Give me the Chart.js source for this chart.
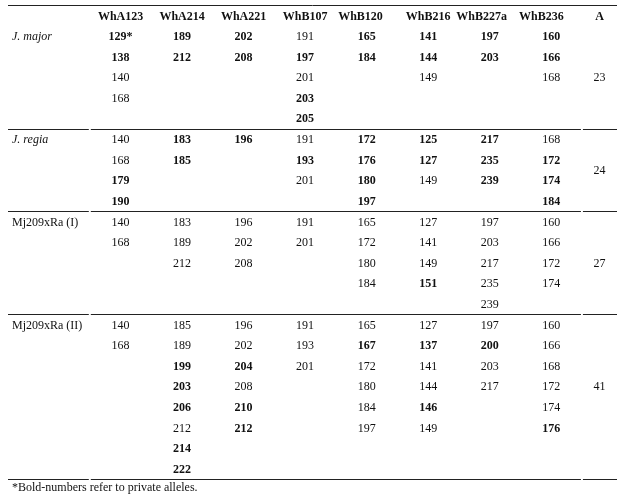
<!DOCTYPE html>
<html>
<head>
<meta charset="utf-8">
<script src="https://cdn.jsdelivr.net/npm/chart.js@4.4.0/dist/chart.umd.min.js"></script>
<style>
html, body { margin: 0; padding: 0; background: #fff; }
canvas { display: block; }
</style>
</head>
<body>
<canvas id="table1" width="628" height="498"></canvas>
<script>
// column heads and group names
var markers = ["WhA123", "WhA214", "WhA221", "WhB107", "WhB120", "WhB216", "WhB227a", "WhB236"];
var lastHead = "A";
var groups = ["J. major", "J. regia", "Mj209xRa (I)", "Mj209xRa (II)"];
var italicGroups = ["J. major", "J. regia"];
var footnote = "*Bold-numbers refer to private alleles.";

// alleles per marker, one array per group
var jMajorAlleles = [["129*", "138", "140", "168"], ["189", "212"], ["202", "208"], ["191", "197", "201", "203", "205"],
    ["165", "184"], ["141", "144", "149"], ["197", "203"], ["160", "166", "168"]];
var jRegiaAlleles = [["140", "168", "179", "190"], ["183", "185"], ["196"], ["191", "193", "201"],
    ["172", "176", "180", "197"], ["125", "127", "149"], ["217", "235", "239"], ["168", "172", "174", "184"]];
var mj1Alleles = [["140", "168"], ["183", "189", "212"], ["196", "202", "208"], ["191", "201"],
    ["165", "172", "180", "184"], ["127", "141", "149", "151"], ["197", "203", "217", "235", "239"], ["160", "166", "172", "174"]];
var mj2Alleles = [["140", "168"], ["185", "189", "199", "203", "206", "212", "214", "222"], ["196", "202", "204", "208", "210", "212"], ["191", "193", "201"],
    ["165", "167", "172", "180", "184", "197"], ["127", "137", "141", "144", "146", "149"], ["197", "200", "203", "217"], ["160", "166", "168", "172", "174", "176"]];

// private alleles (printed bold), same layout
var jMajorPrivate = [["129*", "138"], ["189", "212"], ["202", "208"], ["197", "203", "205"],
    ["165", "184"], ["141", "144"], ["197", "203"], ["160", "166"]];
var jRegiaPrivate = [["179", "190"], ["183", "185"], ["196"], ["193"],
    ["172", "176", "180", "197"], ["125", "127"], ["217", "235", "239"], ["172", "174", "184"]];
var mj1Private = [[], [], [], [], [], ["151"], [], []];
var mj2Private = [[], ["199", "203", "206", "214", "222"], ["204", "210", "212"], [],
    ["167"], ["137", "146"], ["200"], ["176"]];

// A (total alleles) per group
var totals = ["23", "24", "27", "41"];

var allAlleles = [jMajorAlleles, jRegiaAlleles, mj1Alleles, mj2Alleles];
var allPrivate = [jMajorPrivate, jRegiaPrivate, mj1Private, mj2Private];

// layout (column units)
var labelWidth = 1.33;
var aWidth = 0.57;
var headShift = [0, 0, 0, 0, -0.1, 0, -0.13, -0.16, 0];
var textCol = "#111";
var lineCol = "#222";
var fontFamily = "'Liberation Serif', 'Times New Roman', serif";

//Build the cell points
var headPoints = [];
markers.forEach((m, i) => {
    headPoints.push({x: i + 0.5 + headShift[i], y: -0.95, text: m, bold: true});
});
headPoints.push({x: markers.length + aWidth / 2, y: -0.95, text: lastHead, bold: true});

var labelPoints = [];
var cellPoints = [];
var totalPoints = [];
var groupEnds = [];
var rowStart = 0;

allAlleles.forEach((groupAlleles, g) => {
    let rows = 0;
    groupAlleles.forEach(col => { rows = Math.max(rows, col.length); });
    labelPoints.push({x: -labelWidth, y: rowStart, text: groups[g], italic: italicGroups.indexOf(groups[g]) >= 0, left: true});
    groupAlleles.forEach((col, c) => {
        col.forEach((v, r) => {
            cellPoints.push({x: c + 0.5, y: rowStart + r, text: v, bold: allPrivate[g][c].indexOf(v) >= 0});
        });
    });
    // the word table centers this cell on at most 7 lines
    let mid = (Math.min(rows, 7) - 1) / 2;
    totalPoints.push({x: markers.length + aWidth / 2, y: rowStart + mid, text: totals[g]});
    rowStart += rows;
    groupEnds.push(rowStart - 0.5);
});

var tablePlugin = {
    id: "tableText",
    afterDatasetsDraw(chart) {
        var ctx = chart.ctx;
        var xs = chart.scales.x;
        var ys = chart.scales.y;
        ctx.save();
        // rules
        ctx.strokeStyle = lineCol;
        ctx.lineWidth = 1;
        var left = xs.getPixelForValue(xs.min);
        var right = xs.getPixelForValue(xs.max);
        var gap1 = xs.getPixelForValue(0);
        var gap2 = xs.getPixelForValue(markers.length);
        var topY = Math.round(ys.getPixelForValue(-1.5)) + 0.5;
        ctx.beginPath();
        ctx.moveTo(left, topY);
        ctx.lineTo(right, topY);
        ctx.stroke();
        groupEnds.forEach(e => {
            let y = Math.round(ys.getPixelForValue(e)) + 0.5;
            ctx.beginPath();
            ctx.moveTo(left, y); ctx.lineTo(gap1 - 1, y);
            ctx.moveTo(gap1 + 1, y); ctx.lineTo(gap2 - 1, y);
            ctx.moveTo(gap2 + 1, y); ctx.lineTo(right, y);
            ctx.stroke();
        });
        // texts at the points placed by the scales
        ctx.fillStyle = textCol;
        ctx.textBaseline = "middle";
        chart.data.datasets.forEach((ds, d) => {
            var meta = chart.getDatasetMeta(d);
            meta.data.forEach((pt, i) => {
                var item = ds.data[i];
                ctx.font = (item.italic ? "italic " : "") + (item.bold ? "bold " : "") + "12px " + fontFamily;
                ctx.textAlign = item.left ? "left" : "center";
                ctx.fillText(item.text, item.left ? pt.x + 4 : pt.x, pt.y + 1);
            });
        });
        ctx.font = "12px " + fontFamily;
        ctx.textAlign = "left";
        ctx.fillText(footnote, left + 4, ys.getPixelForValue(rowStart - 0.1) + 1);
        ctx.restore();
    }
};

function makeSet(points) {
    return {data: points, pointRadius: 0, pointHoverRadius: 0, showLine: false};
}

var chart = new Chart(document.getElementById("table1"), {
    type: "scatter",
    data: {
        datasets: [makeSet(headPoints), makeSet(labelPoints), makeSet(cellPoints), makeSet(totalPoints)]
    },
    options: {
        responsive: false,
        animation: false,
        events: [],
        layout: {padding: {left: 8, right: 11, top: 5, bottom: 19}},
        plugins: {legend: {display: false}, tooltip: {enabled: false}},
        scales: {
            x: {type: "linear", display: false, min: -labelWidth, max: markers.length + aWidth},
            y: {type: "linear", display: false, reverse: true, min: -1.5, max: rowStart - 0.5}
        }
    },
    plugins: [tablePlugin]
});
</script>
</body>
</html>
